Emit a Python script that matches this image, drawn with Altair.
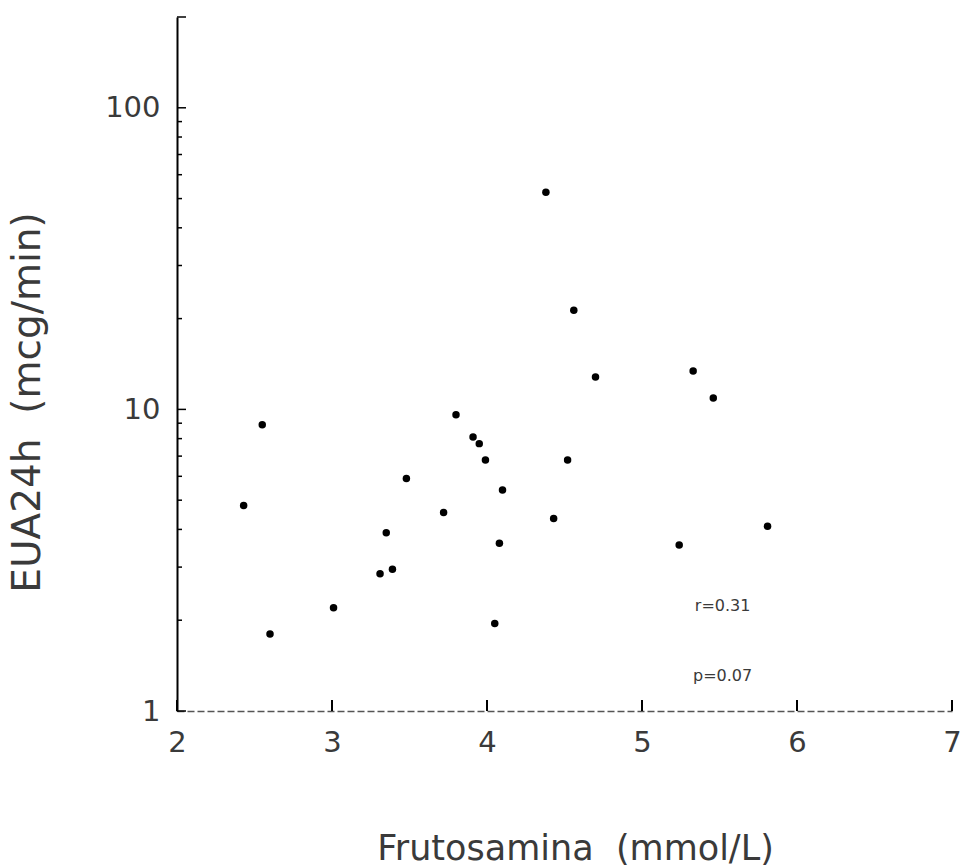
import altair as alt
import pandas as pd

# Data
frutosamina = [2.43, 2.55, 2.60, 3.01, 3.31, 3.35, 3.39, 3.48, 3.72, 3.80,
               3.91, 3.95, 3.99, 4.05, 4.08, 4.10, 4.38, 4.43, 4.52, 4.56,
               4.70, 5.24, 5.33, 5.46, 5.81]
eua24h = [4.8, 8.9, 1.8, 2.2, 2.85, 3.9, 2.95, 5.9, 4.55, 9.6,
          8.1, 7.7, 6.8, 1.95, 3.6, 5.4, 52.5, 4.35, 6.8, 21.3,
          12.8, 3.55, 13.4, 10.9, 4.1]

x_tick_values = [2, 3, 4, 5, 6, 7]
y_label_values = [1, 10, 100]
y_major_ticks = [1, 10, 100, 200]
y_minor_ticks = [2, 3, 4, 5, 6, 7, 8, 9, 20, 30, 40, 50, 60, 70, 80, 90]

note_text = ["r=0.31", "p=0.07"]
note_x = [5.52, 5.52]
note_y = [2.23, 1.31]

FONT = "DejaVu Sans"
INK = "#3a3a3a"

df = pd.DataFrame({"x": frutosamina, "y": eua24h})
xt = pd.DataFrame({"x": x_tick_values})
ymaj = pd.DataFrame({"y": y_major_ticks})
ymin = pd.DataFrame({"y": y_minor_ticks})
notes = pd.DataFrame({"t": note_text, "x": note_x, "y": note_y})

xs = alt.Scale(domain=[2, 7], nice=False, zero=False)
ys = alt.Scale(type="log", domain=[1, 200], nice=False)

points = alt.Chart(df).mark_point(filled=True, color="black", size=56, opacity=1).encode(
    x=alt.X("x:Q", scale=xs, axis=alt.Axis(
        values=x_tick_values, format="d", grid=False, ticks=False, tickSize=0,
        labelFlush=False, labelOverlap=False,
        labelFont=FONT, labelFontSize=29, labelColor=INK, labelPadding=17,
        domainColor="#555555", domainWidth=1.5, domainDash=[7, 3],
        title="Frutosamina\u00a0 (mmol/L)", titleFont=FONT, titleFontSize=35,
        titleFontWeight="normal", titleColor=INK,
        titleX=398, titleY=137, titleAlign="center", titleBaseline="middle")),
    y=alt.Y("y:Q", scale=ys, axis=alt.Axis(
        values=y_label_values, format="d", grid=False, ticks=False, tickSize=0,
        labelFlush=False, labelOverlap=False,
        labelFont=FONT, labelFontSize=29, labelColor=INK, labelPadding=17,
        domainColor="black", domainWidth=2,
        title="EUA24h\u00a0 (mcg/min)", titleFont=FONT, titleFontSize=39,
        titleFontWeight="normal", titleColor=INK,
        titleX=-150, titleY=385, titleAlign="center", titleBaseline="middle")),
)

major_y = alt.Chart(ymaj).mark_rule(color="black", strokeWidth=1.5).encode(
    y=alt.Y("y:Q", scale=ys),
    x=alt.value(0), x2=alt.value(9))

minor_y = alt.Chart(ymin).mark_rule(color="black", strokeWidth=1.5).encode(
    y=alt.Y("y:Q", scale=ys),
    x=alt.value(0), x2=alt.value(5))

ticks_x = alt.Chart(xt).mark_rule(color="black", strokeWidth=2).encode(
    x=alt.X("x:Q", scale=xs),
    y=alt.value(694), y2=alt.value(683))

labels = alt.Chart(notes).mark_text(font=FONT, fontSize=16, color=INK, align="center",
                                    baseline="middle").encode(
    x=alt.X("x:Q", scale=xs),
    y=alt.Y("y:Q", scale=ys),
    text="t:N")

chart = alt.layer(points, major_y, minor_y, ticks_x, labels).properties(
    width=775, height=694,
    autosize=alt.AutoSizeParams(type="none"),
    padding={"left": 177, "top": 17, "right": 13, "bottom": 157},
    background="white",
).configure_view(stroke=None)

chart.save("out.html", embed_options={"renderer": "svg", "actions": False})
